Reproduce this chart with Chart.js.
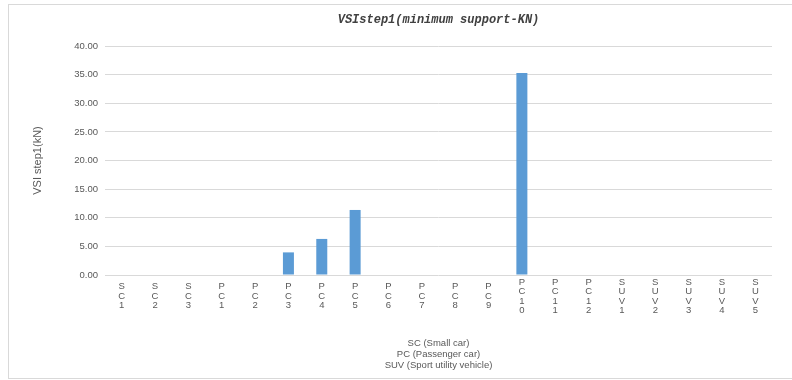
<!DOCTYPE html>
<html>
<head>
<meta charset="utf-8">
<script src="https://cdn.jsdelivr.net/npm/chart.js@4.4.1/dist/chart.umd.min.js"></script>
<style>
  html, body { margin: 0; padding: 0; background: #fff; }
  #wrap { width: 792px; height: 380px; position: relative; }
</style>
</head>
<body>
<div id="wrap"><canvas id="c" width="792" height="380"></canvas></div>
<script>
const categories = [
  ['S','C','1'], ['S','C','2'], ['S','C','3'],
  ['P','C','1'], ['P','C','2'], ['P','C','3'], ['P','C','4'], ['P','C','5'], ['P','C','6'],
  ['P','C','7'], ['P','C','8'], ['P','C','9'], ['P','C','1','0'], ['P','C','1','1'], ['P','C','1','2'],
  ['S','U','V','1'], ['S','U','V','2'], ['S','U','V','3'], ['S','U','V','4'], ['S','U','V','5']
];
const vsiStep1 = [0, 0, 0, 0, 0, 3.95, 6.3, 11.36, 0, 0, 0, 0, 35.3, 0, 0, 0, 0, 0, 0, 0];
const yTicks = { min: 0, max: 40, step: 5 };
const chartTitle = 'VSIstep1(minimum support-KN)';
const yTitle = 'VSI step1(kN)';
const xTitle = ['SC (Small car)', 'PC (Passenger car)', 'SUV (Sport utility vehicle)'];

const frame = {
  id: 'frame',
  beforeDraw(chart) {
    const ctx = chart.ctx;
    ctx.save();
    ctx.fillStyle = '#ffffff';
    ctx.fillRect(0, 0, chart.width, chart.height);
    ctx.strokeStyle = '#d9d9d9';
    ctx.lineWidth = 1;
    ctx.strokeRect(8.5, 4.5, 800, 374);
    ctx.restore();
  }
};

new Chart(document.getElementById('c'), {
  type: 'bar',
  data: {
    labels: categories,
    datasets: [{
      data: vsiStep1,
      backgroundColor: '#5b9bd5',
      borderWidth: 0,
      barPercentage: 0.33,
      categoryPercentage: 1.0
    }]
  },
  options: {
    responsive: false,
    animation: false,
    devicePixelRatio: 1,
    layout: { padding: { left: 0, right: 20, top: 0, bottom: 0 } },
    plugins: {
      legend: { display: false },
      tooltip: { enabled: false },
      title: {
        display: true,
        fullSize: false,
        text: chartTitle,
        color: '#404040',
        font: { family: 'Liberation Mono', size: 12, weight: 'bold', style: 'italic', lineHeight: 1.2 },
        padding: { top: 12.8, bottom: 18.8 }
      }
    },
    scales: {
      x: {
        grid: { display: false, drawTicks: false },
        border: { display: false },
        ticks: {
          autoSkip: false,
          maxRotation: 0,
          minRotation: 0,
          crossAlign: 'center',
          padding: 7,
          color: '#595959',
          font: { family: 'Liberation Sans', size: 9.5, lineHeight: 1.0 }
        },
        title: {
          display: true,
          text: xTitle,
          color: '#595959',
          font: { family: 'Liberation Sans', size: 9.5, lineHeight: 1.2 },
          padding: { top: 0, bottom: 8.5 }
        },
        afterFit(scale) { scale.height = 105; }
      },
      y: {
        min: yTicks.min,
        max: yTicks.max,
        grid: { color: '#d9d9d9', drawTicks: false, lineWidth: 1 },
        border: { display: false },
        ticks: {
          stepSize: yTicks.step,
          padding: 7,
          color: '#595959',
          font: { family: 'Liberation Sans', size: 9.5 },
          callback: v => Number(v).toFixed(2)
        },
        title: {
          display: true,
          text: yTitle,
          color: '#595959',
          font: { family: 'Liberation Sans', size: 11, lineHeight: 1.2 },
          padding: { top: 31.5, bottom: 0 }
        },
        afterFit(scale) { scale.width = 105; }
      }
    }
  },
  plugins: [frame]
});
</script>
</body>
</html>
